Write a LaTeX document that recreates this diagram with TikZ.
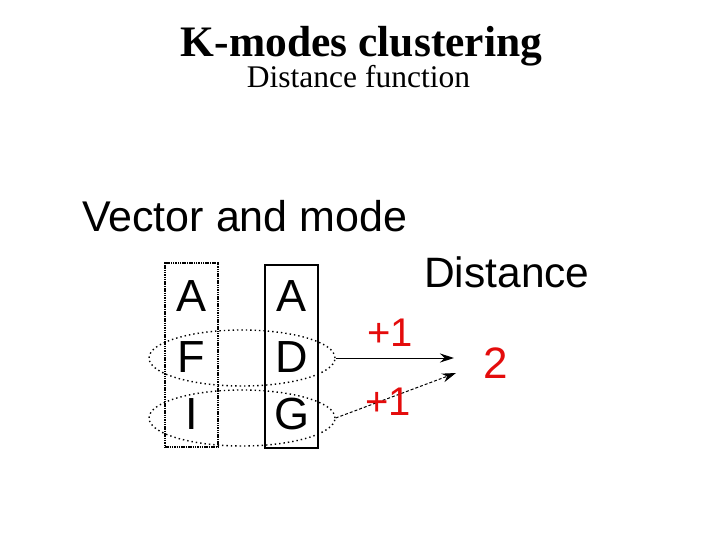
\documentclass[tikz,border=0pt]{standalone}
\usepackage{fontspec}
\setmainfont{Liberation Serif}
\newfontfamily\arialf{Liberation Sans}
\usetikzlibrary{shapes.geometric,arrows.meta}
\definecolor{redlab}{RGB}{228,12,12}
\tikzset{
  colbox/.style={draw=black, line width=1.6pt, minimum width=53pt, inner sep=0pt},
  letter/.style={font=\arialf\fontsize{45}{45}\selectfont, inner sep=0pt},
  pairell/.style={ellipse, draw=black, line width=1.4pt, dash pattern=on 1.4pt off 3pt, minimum width=186pt, minimum height=56pt, inner sep=0pt},
  redtxt/.style={font=\arialf\fontsize{40}{40}\selectfont, text=redlab, inner sep=0pt},
  arr/.style={-{Stealth[length=14pt,width=9pt]}, line width=1pt},
}
\begin{document}
\begin{tikzpicture}[x=1pt,y=-1pt]
\useasboundingbox (0,0) rectangle (720,540);
\node[font=\bfseries\fontsize{43.5}{43.5}\selectfont, anchor=base] (title) at (361.5,57) {K-modes clustering};
\node[font=\fontsize{31.5}{31.5}\selectfont, anchor=base] (sub) at (358.5,88) {Distance function};
\node[font=\arialf\fontsize{43}{43}\selectfont, anchor=base west, inner sep=0pt] (vm) at (82,231) {Vector and mode};
\node[font=\arialf\fontsize{42.5}{42.5}\selectfont, anchor=base west, inner sep=0pt] (dist) at (424,287) {Distance};
% columns
\node[colbox, minimum height=184pt, line width=1.4pt, dash pattern=on 1.5pt off 0.8pt] (vec) at (191.5,355) {};
\node[colbox, minimum height=183pt] (mode) at (291.5,356.5) {};
\node[letter] (v1) at (191.5,296) {A};
\node[letter] (v2) at (191.5,357) {F};
\node[letter] (v3) at (191.5,414) {I};
\node[letter] (m1) at (291.5,296) {A};
\node[letter] (m2) at (291.5,357) {D};
\node[letter] (m3) at (291.5,414) {G};
% ellipses
\node[pairell] (e1) at (242,358) {};
\node[pairell] (e2) at (242,418) {};
% arrows
\coordinate (t1) at (454,358);
\coordinate (t2) at (456,373);
\draw[arr] (e1.east) -- (t1);
\draw[arr, dash pattern=on 3pt off 2pt] (e2.east) -- (t2);
\node[redtxt] (p1) at (390,333) {+1};
\node[redtxt] (p2) at (388,402) {+1};
\node[redtxt, font=\arialf\fontsize{44}{44}\selectfont] (sum) at (496,363) {2};
\end{tikzpicture}
\end{document}
